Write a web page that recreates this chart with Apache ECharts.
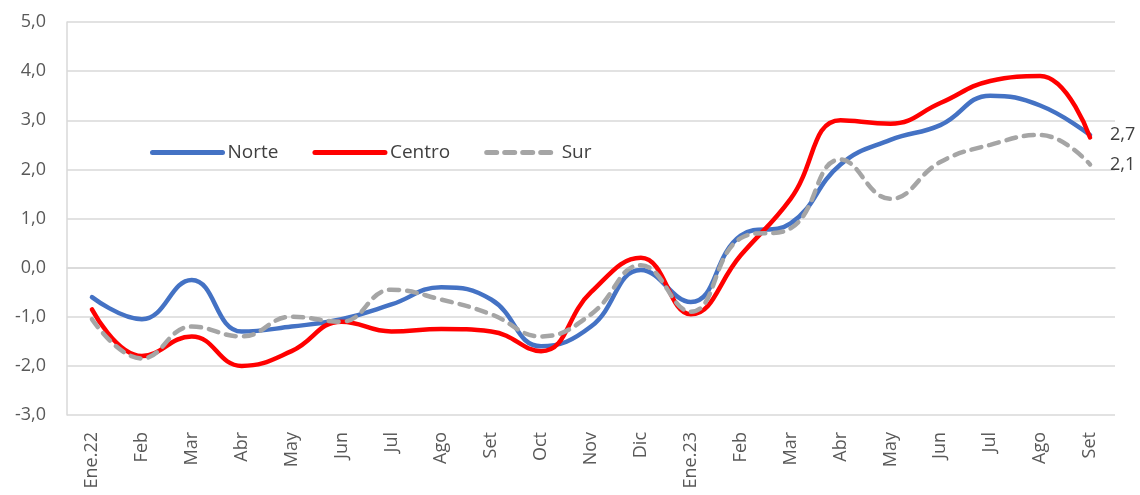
<!DOCTYPE html>
<html><head><meta charset="utf-8">
<script src="https://cdn.jsdelivr.net/npm/echarts@6/dist/echarts.min.js"></script>
<style>html,body{margin:0;padding:0;background:#fff}#c{width:1140px;height:495px}</style>
</head><body><div id="c"></div>
<script>
const categories = ["Ene.22","Feb","Mar","Abr","May","Jun","Jul","Ago","Set","Oct","Nov","Dic","Ene.23","Feb","Mar","Abr","May","Jun","Jul","Ago","Set"];
const norte  = [-0.6,-1.05,-0.25,-1.3,-1.2,-1.05,-0.75,-0.4,-0.65,-1.6,-1.2,-0.05,-0.7,0.65,0.9,2.1,2.6,2.9,3.5,3.3,2.7];
const centro = [-0.85,-1.8,-1.4,-2.0,-1.7,-1.1,-1.3,-1.25,-1.3,-1.7,-0.5,0.2,-0.95,0.25,1.4,3.0,2.93,3.35,3.8,3.9,2.65];
const sur    = [-1.05,-1.85,-1.2,-1.4,-1.0,-1.1,-0.45,-0.65,-0.95,-1.4,-0.95,0.05,-0.9,0.6,0.8,2.2,1.4,2.15,2.5,2.7,2.1];
const yTicks = {min:-3, max:5, interval:1};
const fmt = v => v.toFixed(1).replace('.', ',');
const font = "'Open Sans', 'Noto Sans', sans-serif";
const chart = echarts.init(document.getElementById('c'));
function s(name, data, color, type, endLabel) {
  return {
    name, type:'line', data, smooth:0.45, symbol:'none',
    lineStyle:{color, width:4.5, type, cap:'round'},
    itemStyle:{color},
    endLabel: endLabel ? {show:true, formatter:p=>fmt(p.value), color:'#404040', fontSize:18, fontFamily:font, distance:20} : {show:false},
    z: name==='Sur'?3:(name==='Centro'?2:1)
  };
}
chart.setOption({
  animation:false,
  grid:{left:67, right:25, top:22, bottom:80, containLabel:false},
  legend:{
    data:['Norte','Centro','Sur'], left:145, top:138, itemWidth:70, itemHeight:14, itemGap:34,
    itemStyle:{opacity:0},
    lineStyle:{width:5},
    textStyle:{fontSize:19, color:'#404040', fontFamily:font}
  },
  xAxis:{
    type:'category', data:categories, boundaryGap:true,
    axisLine:{show:true, lineStyle:{color:'#d9d9d9', width:1.5}},
    axisTick:{show:false},
    axisLabel:{rotate:90, fontSize:18, color:'#595959', fontFamily:font, margin:17, interval:0}
  },
  yAxis:{
    type:'value', min:yTicks.min, max:yTicks.max, interval:yTicks.interval,
    axisLine:{show:true, lineStyle:{color:'#d9d9d9', width:1.5}},
    axisTick:{show:false},
    splitLine:{lineStyle:{color:'#d9d9d9', width:1.5}},
    axisLabel:{formatter:fmt, fontSize:18, color:'#595959', fontFamily:font, margin:21}
  },
  series:[
    s('Norte', norte, '#4472C4', 'solid', true),
    s('Centro', centro, '#FF0000', 'solid', false),
    s('Sur', sur, '#A5A5A5', [10,8], true)
  ]
});
</script></body></html>
